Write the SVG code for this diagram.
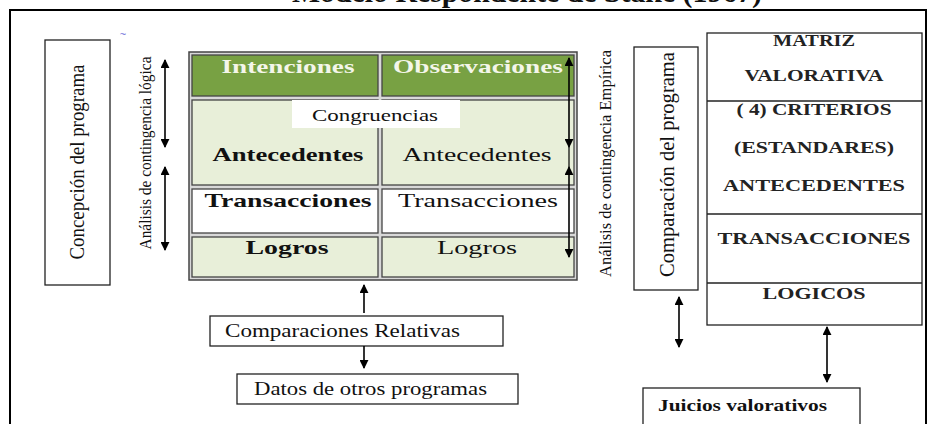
<svg xmlns="http://www.w3.org/2000/svg" width="936" height="424" viewBox="0 0 936 424">
<defs>
<marker id="ah" viewBox="0 0 10 10" refX="9" refY="5" markerWidth="9" markerHeight="9" markerUnits="userSpaceOnUse" orient="auto-start-reverse">
<path d="M0,0 L10,5 L0,10 Z" fill="#000"/>
</marker>
</defs>
<style>
.s{font-family:"Liberation Serif","Times New Roman",serif;fill:#111}
.b{font-weight:bold}
.box{fill:#fff;stroke:#222;stroke-width:1.3}
.cell{stroke:#444;stroke-width:1.3}
.hd{fill:#78a143}
.lg{fill:#e8efd9}
.wh{fill:#fff}
.ht{fill:#f4f6ea}
.cn line{stroke:#000;stroke-width:1.6;marker-start:url(#ah);marker-end:url(#ah)}
.cn line.one{marker-start:none}
.caps{font-family:"Liberation Serif","Times New Roman",serif;font-weight:bold;font-size:16px;fill:#222;text-anchor:middle}
.rot{text-anchor:middle;dominant-baseline:central}
</style>
<rect width="936" height="424" fill="#fff"/>
<text class="s b" x="527" y="2" font-size="30" text-anchor="middle" textLength="470" lengthAdjust="spacingAndGlyphs">Modelo Respondente de Stake (1967)</text>
<rect x="10" y="10" width="916" height="430" fill="none" stroke="#000" stroke-width="2"/>

<text x="123" y="38" font-family="Liberation Sans, sans-serif" font-size="11" fill="#6a6ad8" text-anchor="middle">~</text>

<g id="concepcion">
<rect class="box" x="45" y="40" width="65" height="245"/>
<text class="s rot" transform="translate(77,162) rotate(-90)" font-size="21" textLength="195" lengthAdjust="spacingAndGlyphs">Concepción del programa</text>
</g>
<g id="contingencia-logica">
<text class="s rot" transform="translate(145,153) rotate(-90)" font-size="17" textLength="193" lengthAdjust="spacingAndGlyphs">Análisis de contingencia lógica</text>
</g>

<g id="matriz-descriptiva">
<rect x="189" y="52" width="388" height="228" fill="#d8d8d8" stroke="#444" stroke-width="1.5"/>
<rect class="cell hd" x="192" y="55" width="186" height="41"/>
<rect class="cell hd" x="382" y="55" width="192" height="41"/>
<rect class="cell lg" x="192" y="100" width="186" height="85"/>
<rect class="cell lg" x="382" y="100" width="192" height="85"/>
<rect class="cell wh" x="192" y="189" width="186" height="44"/>
<rect class="cell wh" x="382" y="189" width="192" height="44"/>
<rect class="cell lg" x="192" y="237" width="186" height="40"/>
<rect class="cell lg" x="382" y="237" width="192" height="40"/>
<text class="s b ht" x="288" y="73" font-size="19" style="fill:#f4f6ea" text-anchor="middle" textLength="133" lengthAdjust="spacingAndGlyphs">Intenciones</text>
<text class="s b ht" x="478" y="73" font-size="19" style="fill:#f4f6ea" text-anchor="middle" textLength="170" lengthAdjust="spacingAndGlyphs">Observaciones</text>
<rect x="292" y="100" width="168" height="28" fill="#fff"/>
<text class="s" x="375" y="121" font-size="17" text-anchor="middle" textLength="126" lengthAdjust="spacingAndGlyphs">Congruencias</text>
<text class="s b" x="288" y="161" font-size="19" text-anchor="middle" textLength="151" lengthAdjust="spacingAndGlyphs">Antecedentes</text>
<text class="s" x="477" y="161" font-size="19" text-anchor="middle" textLength="149" lengthAdjust="spacingAndGlyphs">Antecedentes</text>
<text class="s b" x="288" y="207" font-size="19" text-anchor="middle" textLength="167" lengthAdjust="spacingAndGlyphs">Transacciones</text>
<text class="s" x="478" y="207" font-size="19" text-anchor="middle" textLength="160" lengthAdjust="spacingAndGlyphs">Transacciones</text>
<text class="s b" x="287" y="254" font-size="19" text-anchor="middle" textLength="83" lengthAdjust="spacingAndGlyphs">Logros</text>
<text class="s" x="477" y="254" font-size="19" text-anchor="middle" textLength="80" lengthAdjust="spacingAndGlyphs">Logros</text>
</g>

<g id="contingencia-empirica">
<text class="s rot" transform="translate(605,163.5) rotate(-90)" font-size="17" textLength="227" lengthAdjust="spacingAndGlyphs">Análisis de contingencia Empírica</text>
</g>
<g id="comparacion">
<rect class="box" x="634" y="47" width="64" height="243"/>
<text class="s rot" transform="translate(666,164.5) rotate(-90)" font-size="22" textLength="225" lengthAdjust="spacingAndGlyphs">Comparación  del programa</text>
</g>

<g id="matriz-valorativa">
<rect class="box" x="707" y="33" width="215" height="292"/>
<line x1="707" y1="101" x2="922" y2="101" stroke="#222" stroke-width="1.3"/>
<line x1="707" y1="214" x2="922" y2="214" stroke="#222" stroke-width="1.3"/>
<line x1="707" y1="283" x2="922" y2="283" stroke="#222" stroke-width="1.3"/>
<text class="caps" x="814" y="46" textLength="82" lengthAdjust="spacingAndGlyphs">MATRIZ</text>
<text class="caps" x="814" y="81" textLength="139" lengthAdjust="spacingAndGlyphs">VALORATIVA</text>
<text class="caps" x="814" y="115" textLength="155" lengthAdjust="spacingAndGlyphs">( 4)  CRITERIOS</text>
<text class="caps" x="814" y="153" textLength="160" lengthAdjust="spacingAndGlyphs">(ESTANDARES)</text>
<text class="caps" x="814" y="191" textLength="182" lengthAdjust="spacingAndGlyphs">ANTECEDENTES</text>
<text class="caps" x="814" y="244" textLength="193" lengthAdjust="spacingAndGlyphs">TRANSACCIONES</text>
<text class="caps" x="814" y="299" textLength="103" lengthAdjust="spacingAndGlyphs">LOGICOS</text>
</g>

<g id="comparaciones-relativas">
<rect class="box" x="210" y="316" width="293" height="30"/>
<text class="s" x="225" y="337" font-size="18" textLength="235" lengthAdjust="spacingAndGlyphs">Comparaciones Relativas</text>
</g>
<g id="datos-otros">
<rect class="box" x="237" y="374" width="281" height="30"/>
<text class="s" x="254" y="395" font-size="18" textLength="233" lengthAdjust="spacingAndGlyphs">Datos de otros programas</text>
</g>
<g id="juicios">
<rect class="box" x="643" y="388" width="217" height="50"/>
<text class="s b" x="658" y="411" font-size="17" textLength="169" lengthAdjust="spacingAndGlyphs">Juicios valorativos</text>
</g>

<g id="connectors" class="cn">
<line x1="165" y1="60" x2="165" y2="147"/>
<line x1="165" y1="167" x2="165" y2="250"/>
<line x1="569" y1="58" x2="569" y2="147"/>
<line x1="569" y1="167" x2="569" y2="257"/>
<line x1="569" y1="147" x2="569" y2="167" style="marker-start:none;marker-end:none;stroke-width:1.2"/>
<line class="one" x1="364" y1="313" x2="364" y2="285"/>
<line class="one" x1="364" y1="346" x2="364" y2="368"/>
<line x1="679" y1="297" x2="679" y2="347"/>
<line x1="827" y1="327" x2="827" y2="382"/>
</g>
</svg>
